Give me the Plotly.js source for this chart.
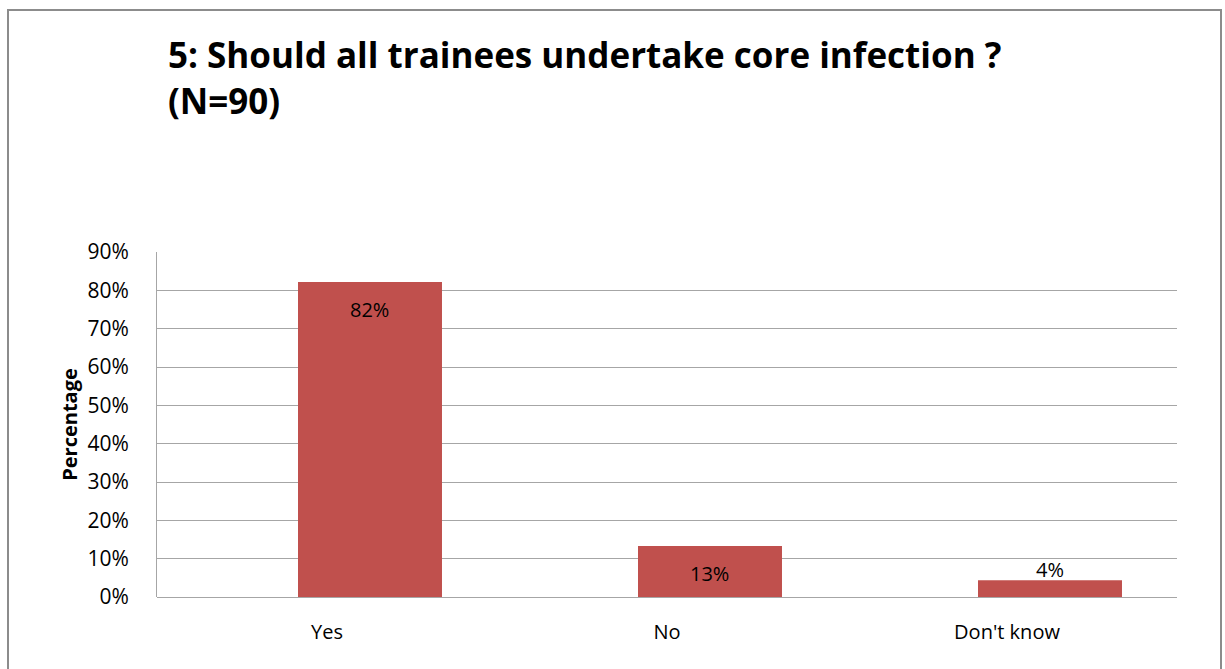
<!DOCTYPE html>
<html>
<head>
<meta charset="utf-8">
<script src="https://cdn.plot.ly/plotly-3.0.1.min.js"></script>
<style>
html,body{margin:0;padding:0;background:#fff;}
#chart{width:1225px;height:669px;}
</style>
</head>
<body>
<div id="chart"></div>
<script>
const categories = ["Yes", "No", "Don't know"];
const percentages = [0.822, 0.133, 0.044];
const labels = ["82%", "13%", "4%"];
const tickValues = [0, 0.1, 0.2, 0.3, 0.4, 0.5, 0.6, 0.7, 0.8, 0.9];
const tickLabels = ["0%", "10%", "20%", "30%", "40%", "50%", "60%", "70%", "80%", "90%"];
const labelInside = [true, true, false];

const FONT = "Open Sans, Liberation Sans, sans-serif";
const BAR_WIDTH = 0.4235;
const BAR_OFFSET = -0.0853;

const trace = {
  type: "bar",
  x: categories,
  y: percentages,
  width: BAR_WIDTH,
  offset: BAR_OFFSET,
  textposition: "none",
  marker: {color: "#C0504D"},
  hoverinfo: "x+y"
};

const annotations = categories.map((c, i) => ({
  x: i + BAR_OFFSET + BAR_WIDTH / 2,
  y: percentages[i],
  xref: "x", yref: "y",
  text: labels[i],
  showarrow: false,
  xanchor: "center",
  yanchor: labelInside[i] ? "top" : "bottom",
  yshift: labelInside[i] ? -12 : -5,
  font: {family: FONT, size: 20, color: "#000"}
}));

const layout = {
  width: 1225,
  height: 669,
  margin: {l: 157, r: 48, t: 252, b: 72},
  paper_bgcolor: "#fff",
  plot_bgcolor: "#fff",
  showlegend: false,
  font: {family: FONT, color: "#000"},
  title: {
    text: "<b>5: Should all trainees undertake core infection ?<br>(N=90)</b>",
    font: {family: FONT, size: 35, color: "#000"},
    x: 168/1225, xanchor: "left", xref: "container",
    y: 1 - 68/669, yanchor: "top", yref: "container"
  },
  xaxis: {
    tickfont: {family: FONT, size: 20, color: "#000"},
    showgrid: false,
    showline: false,
    ticks: "outside",
    ticklen: 17,
    tickcolor: "rgba(0,0,0,0)",
    fixedrange: true
  },
  yaxis: {
    range: [0, 0.9],
    tickvals: tickValues,
    ticktext: tickLabels,
    tickfont: {family: FONT, size: 21, color: "#000"},
    showgrid: true,
    gridcolor: "#A6A6A6",
    gridwidth: 1,
    showline: true,
    linecolor: "#A6A6A6",
    linewidth: 1,
    ticks: "outside",
    ticklen: 23,
    tickcolor: "rgba(0,0,0,0)",
    zeroline: true,
    zerolinecolor: "#A6A6A6",
    zerolinewidth: 1,
    title: {text: "<b>Percentage</b>", font: {family: FONT, size: 20, color: "#000"}, standoff: 4},
    fixedrange: true
  },
  annotations: annotations,
  shapes: [{
    type: "rect", xref: "paper", yref: "paper",
    x0: (8 - 157)/1020, x1: (1221 - 157)/1020,
    y0: (597 - 700)/345, y1: (597 - 10)/345,
    line: {color: "#8C8C8C", width: 2}, fillcolor: "rgba(0,0,0,0)", layer: "below"
  }]
};

Plotly.newPlot("chart", [trace], layout, {displayModeBar: false, staticPlot: true});
</script>
</body>
</html>
